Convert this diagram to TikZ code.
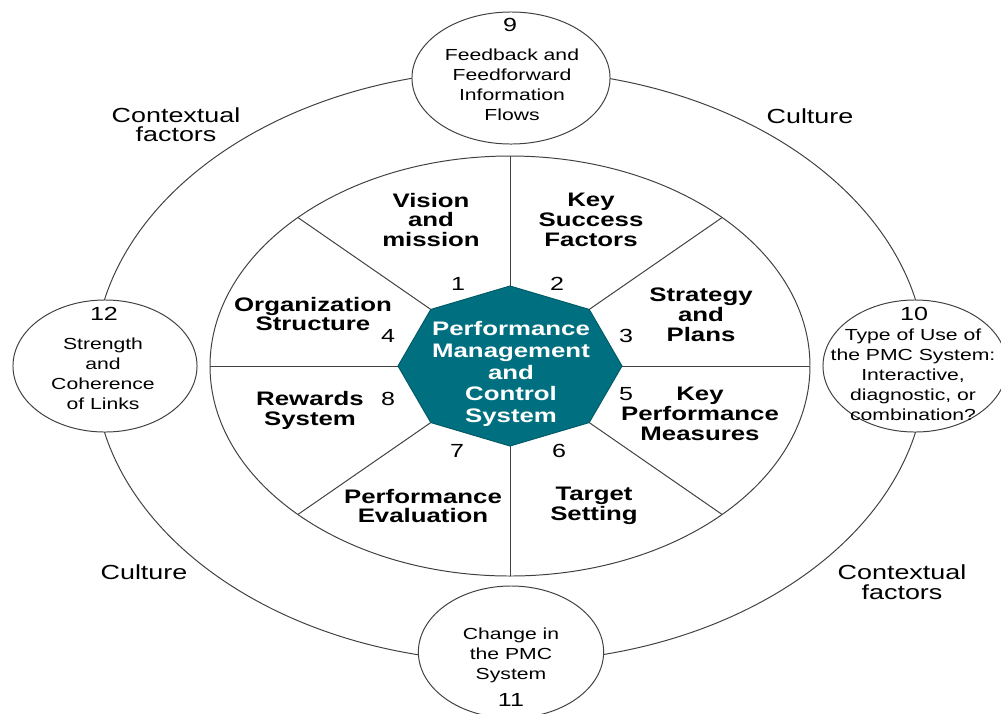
\documentclass[tikz,border=0pt]{standalone}
\usepackage{fontspec}
\setmainfont{Liberation Sans}[FakeStretch=1.32]
\usetikzlibrary{shapes.geometric}
\definecolor{pmcteal}{RGB}{0,112,128}

\begin{document}
\begin{tikzpicture}[x=0.025cm,y=-0.025cm,
    line/.style={draw=black!75,line width=0.7pt},
    bubble/.style={line,fill=white,ellipse,inner sep=0pt},
    seclabel/.style={font=\fontsize{13.9}{14.2}\selectfont\bfseries,align=center,inner sep=0pt},
    bubtext/.style={font=\fontsize{11.4}{14.2}\selectfont,align=center,inner sep=0pt},
    outerlabel/.style={font=\fontsize{14.5}{13.8}\selectfont,align=center,inner sep=0pt},
    num/.style={font=\fontsize{13.5}{14}\selectfont,inner sep=0pt}]

  \useasboundingbox (0,0) rectangle (1001,713);

  % outer ring and the four bubbles on it
  \coordinate (c) at (510,366);
  \draw[line] (c) ellipse [x radius=416, y radius=296];

  \node[bubble,minimum width=4.95cm,minimum height=3.3cm] (fb) at (511,78) {};
  \node[bubble,minimum width=4.6cm,minimum height=3.3cm] (use) at (915,366) {};
  \node[bubble,minimum width=4.63cm,minimum height=3.3cm] (chg) at (511,652) {};
  \node[bubble,minimum width=4.6cm,minimum height=3.3cm] (lnk) at (105,366) {};

  \node[num] (n9) at (510,25) {9};
  \node[bubtext] (fbtext) at (512,85) {Feedback and\\Feedforward\\Information\\Flows};
  \node[num] (n10) at (914,314) {10};
  \node[bubtext] (usetext) at (913,375) {Type of Use of\\the PMC System:\\Interactive,\\diagnostic, or\\combination?};
  \node[num] (n11) at (511,700) {11};
  \node[bubtext] (chgtext) at (511,655) {Change in\\the PMC\\System};
  \node[num] (n12) at (104,314) {12};
  \node[bubtext] (lnktext) at (103,374) {Strength\\and\\Coherence\\of Links};

  \node[outerlabel] (ctxa) at (176,125) {Contextual\\factors};
  \node[outerlabel] (cula) at (810,116) {Culture};
  \node[outerlabel] (culb) at (144,572) {Culture};
  \node[outerlabel] (ctxb) at (902,582) {Contextual\\factors};

  % inner wheel
  \draw[line] (c) ellipse [x radius=300, y radius=210];
  \foreach \a in {0,45,...,315} {
    \coordinate (o\a) at ({510+112*cos(\a)},{366-80*sin(\a)});
    \coordinate (e\a) at ({510+300*cos(\a)},{366-210*sin(\a)});
  }
  \foreach \a in {0,45,...,315}
    \draw[line] (o\a) -- (e\a);

  \filldraw[fill=pmcteal,draw=pmcteal!80!black,line width=0.7pt]
    (o0) -- (o45) -- (o90) -- (o135) -- (o180) -- (o225) -- (o270) -- (o315) -- cycle;
  \node[seclabel,text=white,font=\fontsize{13.9}{15.6}\selectfont\bfseries] (pmc) at (511,374)
    {Performance\\Management\\and\\Control\\System};

  \node[seclabel] (vis) at (431,220) {Vision\\and\\mission};
  \node[seclabel] (ksf) at (591,220) {Key\\Success\\Factors};
  \node[seclabel] (org) at (313,314) {Organization\\Structure};
  \node[seclabel] (strat) at (701,315) {Strategy\\and\\Plans};
  \node[seclabel] (rew) at (310,410) {Rewards\\System};
  \node[seclabel] (kpm) at (700,414) {Key\\Performance\\Measures};
  \node[seclabel] (pev) at (423,506) {Performance\\Evaluation};
  \node[seclabel] (tgt) at (594,506) {Target\\Setting};

  \node[num] (n1) at (458,284) {1};
  \node[num] (n2) at (557,284) {2};
  \node[num] (n3) at (626,336) {3};
  \node[num] (n4) at (388,336) {4};
  \node[num] (n5) at (626,394) {5};
  \node[num] (n6) at (559,451) {6};
  \node[num] (n7) at (457,451) {7};
  \node[num] (n8) at (388,399) {8};
\end{tikzpicture}
\end{document}
